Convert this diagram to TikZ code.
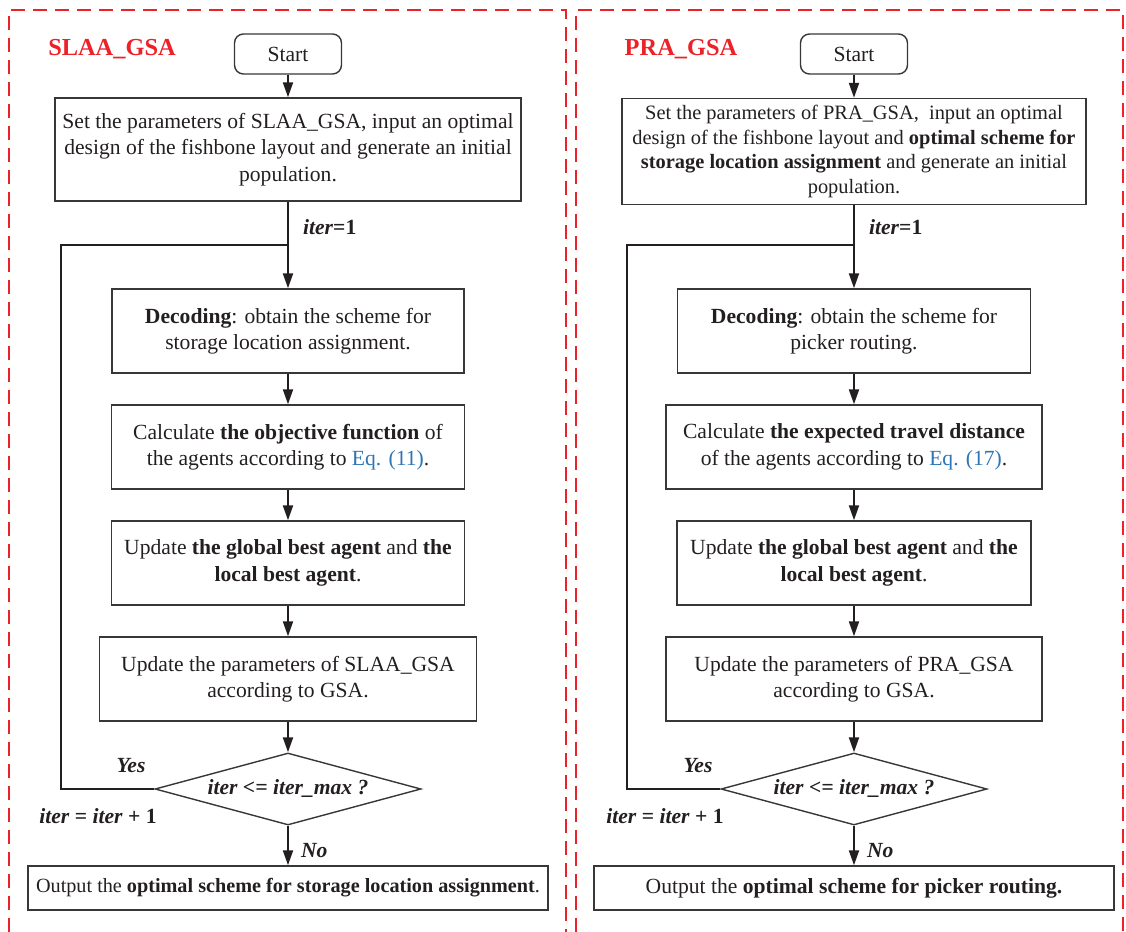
\documentclass[tikz,border=0pt]{standalone}
\usepackage{fontspec}
\setmainfont{Liberation Serif}
\usetikzlibrary{arrows.meta,shapes.geometric}
\definecolor{panelred}{RGB}{236,34,40}
\definecolor{eqblue}{RGB}{46,117,182}
\definecolor{ink}{RGB}{35,31,32}
\definecolor{boxline}{RGB}{55,55,55}

\begin{document}
\begin{tikzpicture}[x=0.5pt,y=-0.5pt,
  every node/.style={font=\fontsize{10.8}{13.2}\selectfont, text=ink},
  procbox/.style={draw=boxline, line width=0.7pt, align=center, inner sep=0pt},
  startbox/.style={procbox, rounded corners=4.5pt, minimum width=53.5pt, minimum height=20pt},
  decision/.style={draw=boxline, line width=0.7pt, diamond, aspect=3.7, inner sep=0pt,
                   minimum width=133pt, minimum height=36pt,
                   font=\fontsize{10.8}{13}\selectfont\bfseries\itshape},
  flowline/.style={draw=ink, line width=1pt},
  arr/.style={flowline, -{Triangle[length=7.5pt,width=5pt]}},
  tag/.style={font=\fontsize{10.8}{13}\selectfont\bfseries},
  title/.style={font=\fontsize{12.2}{14}\selectfont\bfseries, text=panelred},
  panel/.style={draw=panelred, line width=1pt, dash pattern=on 7pt off 4pt}
]
\useasboundingbox (0,0) rectangle (1126,932);

% dashed frames of the two algorithms
\draw[panel] (9,932) -- (9,10) -- (566,10) -- (566,932);
\draw[panel] (576,932) -- (576,10) -- (1123,10) -- (1123,932);

% ---------------- SLAA_GSA ----------------
\node[title] (tL) at (112,49) {SLAA\_GSA};
\node[startbox] (sL) at (288,54) {Start};
\node[procbox, minimum width=233pt, minimum height=51.5pt, font=\fontsize{10.8}{13.3}\selectfont] (aL) at (288,149.5)
  {Set the parameters of SLAA\_GSA, input an optimal\\design of the fishbone layout and generate an initial\\population.};
\node[procbox, minimum width=176pt, minimum height=42pt] (bL) at (288,331)
  {\textbf{Decoding}: obtain the scheme for\\storage location assignment.};
\node[procbox, minimum width=176.5pt, minimum height=42pt] (cL) at (288,447)
  {Calculate \textbf{the objective function} of\\the agents according to \textcolor{eqblue}{Eq. (11)}.};
\node[procbox, minimum width=176.5pt, minimum height=42pt] (dL) at (288,563)
  {Update \textbf{the global best agent} and \textbf{the}\\\textbf{local best agent}.};
\node[procbox, minimum width=188.5pt, minimum height=42pt] (eL) at (288,679)
  {Update the parameters of SLAA\_GSA\\according to GSA.};
\node[decision] (qL) at (288,789) {iter <= iter\_max ?};
\node[procbox, minimum width=260pt, minimum height=22pt, font=\fontsize{10.1}{12}\selectfont] (oL) at (288,888)
  {Output the \textbf{optimal scheme for storage location assignment}.};

\coordinate (kL) at (61,245);
\coordinate (jL) at (288,245);

\draw[arr] (sL) -- (aL);
\draw[arr] (aL) -- (bL);
\draw[arr] (bL) -- (cL);
\draw[arr] (cL) -- (dL);
\draw[arr] (dL) -- (eL);
\draw[arr] (eL) -- (qL);
\draw[arr] (qL) -- (oL);
\draw[flowline] (qL.west) -| (kL) -- (jL);

\node[tag, anchor=west] (iL) at (296,227) {\textit{iter}=1};
\node[tag] (yL) at (131,766) {\textit{Yes}};
\node[tag] (uL) at (98,816) {\textit{iter} = \textit{iter} + 1};
\node[tag, anchor=west] (nL) at (294,851) {\textit{No}};

% ---------------- PRA_GSA ----------------
\node[title] (tR) at (681,49) {PRA\_GSA};
\node[startbox] (sR) at (854,54) {Start};
\node[procbox, minimum width=232pt, minimum height=53pt, font=\fontsize{10.2}{12.25}\selectfont] (aR) at (854,151.5)
  {Set the parameters of PRA\_GSA,\ \ input an optimal\\design of the fishbone layout and \textbf{optimal scheme for}\\\textbf{storage location assignment} and generate an initial\\population.};
\node[procbox, minimum width=176.5pt, minimum height=42pt] (bR) at (854,331)
  {\textbf{Decoding}: obtain the scheme for\\picker routing.};
\node[procbox, minimum width=188pt, minimum height=42pt] (cR) at (854,447)
  {Calculate \textbf{the expected travel distance}\\of the agents according to \textcolor{eqblue}{Eq. (17)}.};
\node[procbox, minimum width=177pt, minimum height=42pt] (dR) at (854,563)
  {Update \textbf{the global best agent} and \textbf{the}\\\textbf{local best agent}.};
\node[procbox, minimum width=188pt, minimum height=42pt] (eR) at (854,679)
  {Update the parameters of PRA\_GSA\\according to GSA.};
\node[decision] (qR) at (854,789) {iter <= iter\_max ?};
\node[procbox, minimum width=260pt, minimum height=22pt] (oR) at (854,888)
  {Output the \textbf{optimal scheme for picker routing.}};

\coordinate (kR) at (627,245);
\coordinate (jR) at (854,245);

\draw[arr] (sR) -- (aR);
\draw[arr] (aR) -- (bR);
\draw[arr] (bR) -- (cR);
\draw[arr] (cR) -- (dR);
\draw[arr] (dR) -- (eR);
\draw[arr] (eR) -- (qR);
\draw[arr] (qR) -- (oR);
\draw[flowline] (qR.west) -| (kR) -- (jR);

\node[tag, anchor=west] (iR) at (862,227) {\textit{iter}=1};
\node[tag] (yR) at (698,766) {\textit{Yes}};
\node[tag] (uR) at (665,816) {\textit{iter} = \textit{iter} + 1};
\node[tag, anchor=west] (nR) at (860,851) {\textit{No}};
\end{tikzpicture}
\end{document}
